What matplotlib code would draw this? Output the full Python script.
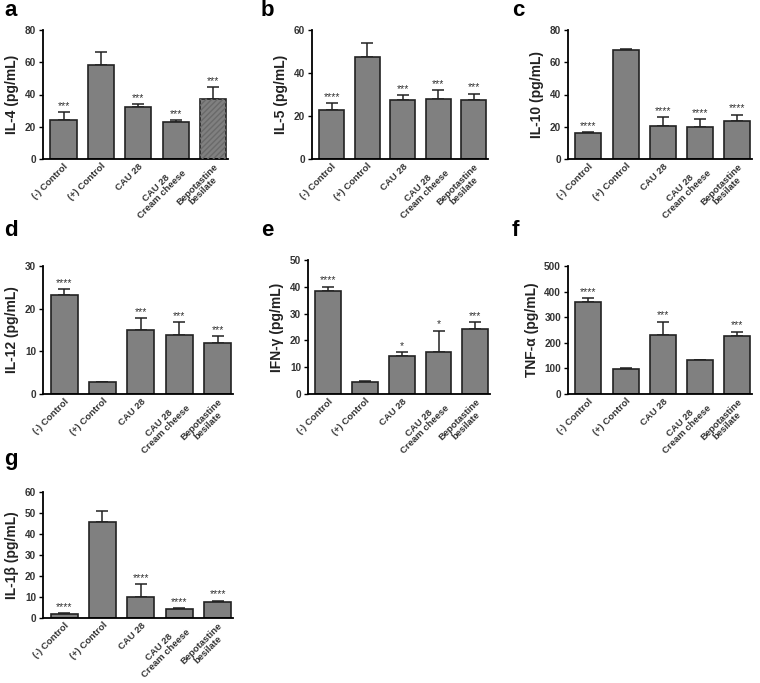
import matplotlib
matplotlib.use('Agg')
from matplotlib import pyplot as plt

plt.rcParams['font.family'] = ['Liberation Sans', 'DejaVu Sans']

groups = ["(-) Control", "(+) Control", "CAU 28", "CAU 28\nCream cheese", "Bepotastine\nbesilate"]

il4_mean = [24.0, 58.0, 32.0, 22.7, 37.0]
il4_err = [5.0, 8.5, 2.0, 1.4, 7.5]
il4_sig = ["***", "", "***", "***", "***"]

il5_mean = [22.7, 47.5, 27.3, 28.0, 27.3]
il5_err = [3.3, 6.5, 2.4, 4.0, 3.0]
il5_sig = ["****", "", "***", "***", "***"]

il10_mean = [16.0, 67.5, 20.3, 19.7, 23.7]
il10_err = [0.6, 0.5, 5.7, 5.0, 3.8]
il10_sig = ["****", "", "****", "****", "****"]

il12_mean = [23.1, 2.7, 14.9, 13.9, 11.9]
il12_err = [1.5, 0.2, 2.8, 3.0, 1.6]
il12_sig = ["****", "", "***", "***", "***"]

ifng_mean = [38.3, 4.5, 14.0, 15.8, 24.2]
ifng_err = [1.8, 0.4, 1.5, 7.8, 2.6]
ifng_sig = ["****", "", "*", "*", "***"]

tnfa_mean = [360, 97, 230, 131, 227]
tnfa_err = [15, 4, 52, 2, 17]
tnfa_sig = ["****", "", "***", "", "***"]

il1b_mean = [2.0, 45.5, 10.0, 4.4, 7.5]
il1b_err = [0.3, 5.5, 6.0, 0.3, 0.8]
il1b_sig = ["****", "", "****", "****", "****"]

W, H = 760, 683
fig = plt.figure(figsize=(W / 100, H / 100), dpi=100)


def add_panel(letter, box, letter_xy, means, errs, sigs, ylabel, ymax, ystep, hatch_last=False):
    x0, x1, ytop, ybot = box
    ax = fig.add_axes([x0 / W, 1 - ybot / H, (x1 - x0) / W, (ybot - ytop) / H])
    pos = list(range(len(means)))
    ax.bar(pos, means, width=0.7, color='#808080', edgecolor='#222222', linewidth=1.2, zorder=2)
    if hatch_last:
        # the last bar of panel a carries a faint diagonal texture
        ax.bar([pos[-1]], [means[-1]], width=0.7, fill=False, hatch='//////',
               edgecolor='#6a6a6a', linewidth=0, zorder=3)
    ax.errorbar(pos, means, yerr=[[0] * len(errs), errs], fmt='none', ecolor='#222222',
                elinewidth=1.1, capsize=4, capthick=1.1, zorder=1)
    for p, m, e, s in zip(pos, means, errs, sigs):
        if s:
            ax.text(p, m + e + ymax * 0.01, s, ha='center', va='bottom', fontsize=7.5,
                    color='#333333')
    ax.set_xlim(-0.55, 4.4)
    ax.set_ylim(0, ymax)
    ax.set_yticks(range(0, ymax + 1, ystep))
    ax.set_xticks(pos)
    ax.set_xticklabels(groups, rotation=45, ha='right', rotation_mode='anchor',
                       multialignment='center', linespacing=1.0,
                       fontsize=6.8, fontweight='bold', color='#333333')
    for lbl in ax.get_yticklabels():
        lbl.set_fontsize(7.2)
        lbl.set_fontweight('bold')
        lbl.set_color('#333333')
    ax.set_ylabel(ylabel, fontsize=10, fontweight='bold', color='#222222', labelpad=4)
    ax.spines['top'].set_visible(False)
    ax.spines['right'].set_visible(False)
    ax.spines['left'].set_linewidth(1.3)
    ax.spines['bottom'].set_linewidth(1.3)
    ax.tick_params(axis='y', length=3, width=1, pad=2)
    ax.tick_params(axis='x', length=0, pad=2)
    fig.text(letter_xy[0] / W, 1 - letter_xy[1] / H, letter, fontsize=16, fontweight='bold',
             ha='left', va='center')
    return ax


add_panel('a', (43, 228, 30, 159), (4, 10), il4_mean, il4_err, il4_sig, "IL-4 (pg/mL)", 80, 20,
          hatch_last=True)
add_panel('b', (312, 488, 30, 159), (261, 11), il5_mean, il5_err, il5_sig, "IL-5 (pg/mL)", 60, 20)
add_panel('c', (568, 752, 30, 159), (512, 11), il10_mean, il10_err, il10_sig, "IL-10 (pg/mL)", 80, 20)
add_panel('d', (43, 233, 266, 394), (4, 231), il12_mean, il12_err, il12_sig, "IL-12 (pg/mL)", 30, 10)
add_panel('e', (308, 490, 260, 394), (261, 231), ifng_mean, ifng_err, ifng_sig, "IFN-\u03b3 (pg/mL)", 50, 10)
add_panel('f', (568, 752, 266, 394), (512, 231), tnfa_mean, tnfa_err, tnfa_sig, "TNF-\u03b1 (pg/mL)", 500, 100)
add_panel('g', (43, 233, 492, 618), (4, 460), il1b_mean, il1b_err, il1b_sig, "IL-1\u03b2 (pg/mL)", 60, 10)

fig.savefig("out.png", dpi=100, facecolor='white')
